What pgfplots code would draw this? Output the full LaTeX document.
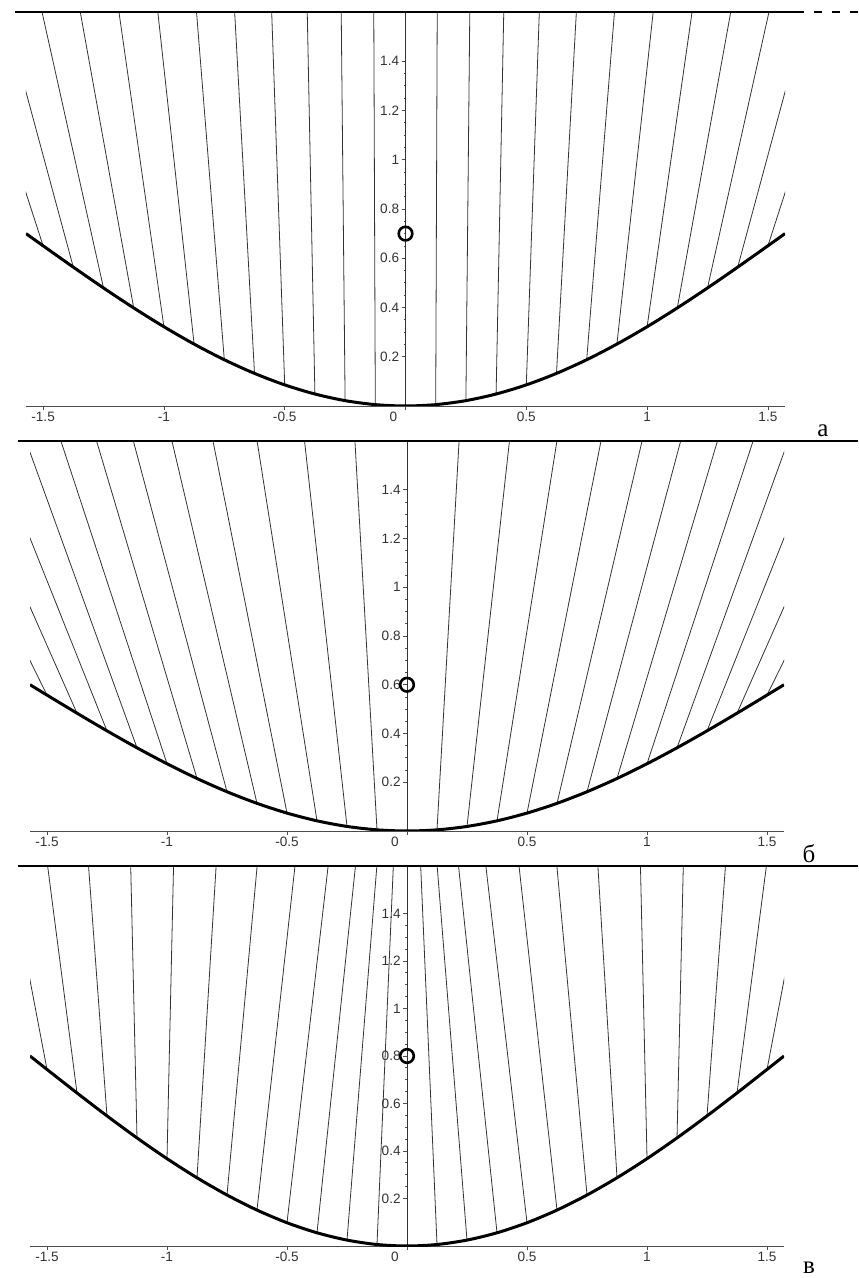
\documentclass[border=0pt]{standalone}
\usepackage{fontspec}
\setmainfont{Liberation Serif}
\setsansfont{Liberation Sans}
\usepackage{pgfplots}
\pgfplotsset{compat=1.18}
\usepackage{pgfplotstable}

% reflected rays: start (x0,y0) on the mirror, reach y = 1.6 at x1
\pgfplotstableread{
x0 y0 x1
-1.5 0.65048 -1.8133
-1.375 0.56382 -1.6603
-1.25 0.47928 -1.5045
-1.125 0.39818 -1.3462
-1.0 0.32179 -1.1861
-0.875 0.25130 -1.0252
-0.75 0.18782 -0.8650
-0.625 0.13233 -0.7072
-0.5 0.08569 -0.5539
-0.375 0.04864 -0.4067
-0.25 0.02176 -0.2661
-0.125 0.00546 -0.1313
0 0 0
0.125 0.00546 0.1313
0.25 0.02176 0.2661
0.375 0.04864 0.4067
0.5 0.08569 0.5539
0.625 0.13233 0.7072
0.75 0.18782 0.8650
0.875 0.25130 1.0252
1.0 0.32179 1.1861
1.125 0.39818 1.3462
1.25 0.47928 1.5045
1.375 0.56382 1.6603
1.5 0.65048 1.8133
}\raysA
\pgfplotstableread{
x0 y0 x1
-1.5 0.55756 -2.0215
-1.375 0.48327 -1.8767
-1.25 0.41081 -1.7324
-1.125 0.34129 -1.5879
-1.0 0.27582 -1.4421
-0.875 0.21540 -1.2935
-0.75 0.16099 -1.1402
-0.625 0.11342 -0.9794
-0.5 0.07345 -0.8084
-0.375 0.04170 -0.6246
-0.25 0.01865 -0.4269
-0.125 0.00468 -0.2170
0 0 0
0.125 0.00468 0.2170
0.25 0.01865 0.4269
0.375 0.04170 0.6246
0.5 0.07345 0.8084
0.625 0.11342 0.9794
0.75 0.16099 1.1402
0.875 0.21540 1.2935
1.0 0.27582 1.4421
1.125 0.34129 1.5879
1.25 0.41081 1.7324
1.375 0.48327 1.8767
1.5 0.55756 2.0215
}\raysB
\pgfplotstableread{
x0 y0 x1
-1.5 0.74341 -1.6612
-1.375 0.64436 -1.4974
-1.25 0.54774 -1.3269
-1.125 0.45506 -1.1512
-1.0 0.36776 -0.9727
-0.875 0.28720 -0.7953
-0.75 0.21465 -0.6244
-0.625 0.15123 -0.4667
-0.5 0.09793 -0.3286
-0.375 0.05559 -0.2147
-0.25 0.02487 -0.1256
-0.125 0.00624 -0.0570
0 0 0
0.125 0.00624 0.0570
0.25 0.02487 0.1256
0.375 0.05559 0.2147
0.5 0.09793 0.3286
0.625 0.15123 0.4667
0.75 0.21465 0.6244
0.875 0.28720 0.7953
1.0 0.36776 0.9727
1.125 0.45506 1.1512
1.25 0.54774 1.3269
1.375 0.64436 1.4974
1.5 0.74341 1.6612
}\raysC

% mirror profiles
\pgfplotstableread{
x y
-1.5708 0.70
-1.5 0.65048
-1.375 0.56382
-1.25 0.47928
-1.125 0.39818
-1.0 0.32179
-0.875 0.25130
-0.75 0.18782
-0.625 0.13233
-0.5 0.08569
-0.375 0.04864
-0.25 0.02176
-0.125 0.00546
0 0
0.125 0.00546
0.25 0.02176
0.375 0.04864
0.5 0.08569
0.625 0.13233
0.75 0.18782
0.875 0.25130
1.0 0.32179
1.125 0.39818
1.25 0.47928
1.375 0.56382
1.5 0.65048
1.5708 0.70
}\curveA
\pgfplotstableread{
x y
-1.5708 0.60
-1.5 0.55756
-1.375 0.48327
-1.25 0.41081
-1.125 0.34129
-1.0 0.27582
-0.875 0.21540
-0.75 0.16099
-0.625 0.11342
-0.5 0.07345
-0.375 0.04170
-0.25 0.01865
-0.125 0.00468
0 0
0.125 0.00468
0.25 0.01865
0.375 0.04170
0.5 0.07345
0.625 0.11342
0.75 0.16099
0.875 0.21540
1.0 0.27582
1.125 0.34129
1.25 0.41081
1.375 0.48327
1.5 0.55756
1.5708 0.60
}\curveB
\pgfplotstableread{
x y
-1.5708 0.80
-1.5 0.74341
-1.375 0.64436
-1.25 0.54774
-1.125 0.45506
-1.0 0.36776
-0.875 0.28720
-0.75 0.21465
-0.625 0.15123
-0.5 0.09793
-0.375 0.05559
-0.25 0.02487
-0.125 0.00624
0 0
0.125 0.00624
0.25 0.02487
0.375 0.05559
0.5 0.09793
0.625 0.15123
0.75 0.21465
0.875 0.28720
1.0 0.36776
1.125 0.45506
1.25 0.54774
1.375 0.64436
1.5 0.74341
1.5708 0.80
}\curveC

\pgfplotsset{
  panel/.style={
    scale only axis, axis lines=middle, anchor=south west,
    xmin=-1.5708, xmax=1.5708, ymin=0, ymax=1.6,
    axis line style={black!70, line width=0.4pt, -},
    xtick={-1.5,-1,-0.5,0.5,1,1.5},
    xticklabels={-1.5,-1,-0.5,0.5,1,1.5},
    extra x ticks={0}, extra x tick labels={0},
    extra x tick style={xticklabel style={xshift=-6pt}},
    hide obscured x ticks=false,
    ytick={0.2,0.4,0.6,0.8,1,1.2,1.4},
    yticklabels={0.2,0.4,0.6,0.8,1,1.2,1.4},
    minor x tick num=4, minor y tick num=3,
    tick align=outside,
    major tick length=2pt, minor tick length=1pt,
    tick style={black!70, line width=0.4pt},
    ticklabel style={font=\sffamily\fontsize{6.8}{7.5}\selectfont, text=black!80, inner sep=1pt},
  },
  ray/.style={black!80, line width=0.4pt, no markers},
  mirror/.style={black, line width=1.5pt, smooth, no markers},
  src/.style={only marks, mark=o, mark size=3.4pt, mark options={black, line width=1.3pt, fill=white}},
}

\begin{document}
\begin{tikzpicture}
\useasboundingbox (0,0) rectangle (429pt,639pt);

% panel a
\begin{axis}[panel, at={(13pt,436pt)}, width=379.5pt, height=197pt]
\addplot[ray, quiver={u=\thisrow{x1}-\thisrow{x0}, v=1.6-\thisrow{y0}}] table[x=x0,y=y0] {\raysA};
\addplot[mirror] table[x=x,y=y] {\curveA};
\addplot[src] coordinates {(0,0.7)};
\end{axis}

% panel b
\begin{axis}[panel, at={(15pt,223.5pt)}, width=377pt, height=195pt]
\addplot[ray, quiver={u=\thisrow{x1}-\thisrow{x0}, v=1.6-\thisrow{y0}}] table[x=x0,y=y0] {\raysB};
\addplot[mirror] table[x=x,y=y] {\curveB};
\addplot[src] coordinates {(0,0.6)};
\end{axis}

% panel c
\begin{axis}[panel, at={(15pt,16pt)}, width=377pt, height=190pt]
\addplot[ray, quiver={u=\thisrow{x1}-\thisrow{x0}, v=1.6-\thisrow{y0}}] table[x=x0,y=y0] {\raysC};
\addplot[mirror] table[x=x,y=y] {\curveC};
\addplot[src] coordinates {(0,0.8)};
\end{axis}

% separator / top lines
\draw[line width=1pt] (7.5pt,633pt) -- (398pt,633pt);
\draw[line width=0.8pt, dash pattern=on 4pt off 5pt] (398pt,633pt) -- (429pt,633pt);
\draw[line width=1pt] (9pt,418.5pt) -- (429pt,418.5pt);
\draw[line width=1pt] (9pt,206pt) -- (429pt,206pt);

% panel letters
\node[font=\fontsize{12.5}{13}\selectfont, inner sep=0pt] at (411.5pt,423.5pt) {а};
\node[font=\fontsize{12.5}{13}\selectfont, inner sep=0pt] at (404.5pt,212pt) {б};
\node[font=\fontsize{12.5}{13}\selectfont, inner sep=0pt] at (404.5pt,5pt) {в};
\end{tikzpicture}
\end{document}
